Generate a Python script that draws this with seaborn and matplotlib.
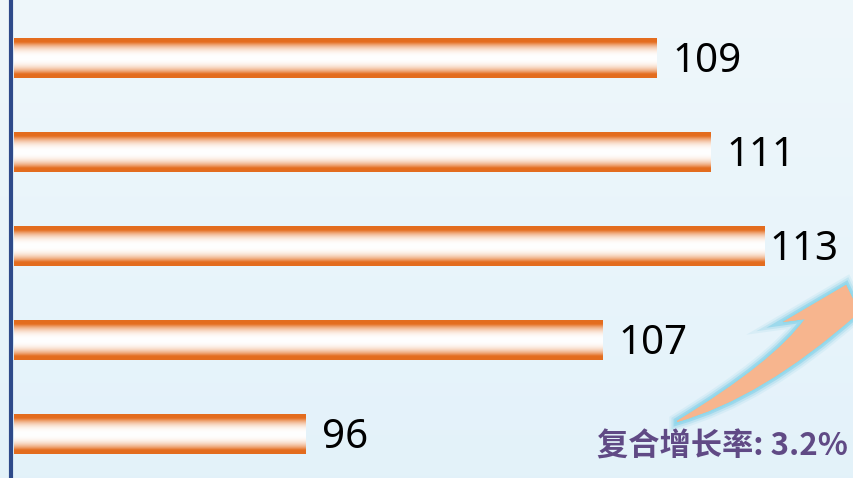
import numpy as np
import pandas as pd
import matplotlib.pyplot as plt
import matplotlib.patheffects as pe
from matplotlib.patches import PathPatch
from matplotlib.path import Path
import seaborn as sns

# данные (сверху вниз), рост 96 -> 109 даёт CAGR 3.2%
periods = ["P5", "P4", "P3", "P2", "P1"]
values = [109, 111, 113, 107, 96]
cagr_label = "复合增长率: 3.2%"

df = pd.DataFrame({"period": periods, "value": values})

sns.set_style("white")
plt.rcParams['font.family'] = ['Noto Sans', 'DejaVu Sans']

W, H = 854, 478
fig = plt.figure(figsize=(W / 100, H / 100), dpi=100)

# фон - светло-голубой градиент
bg = fig.add_axes([0, 0, 1, 1], zorder=0)
top = np.array([0.937, 0.969, 0.984])
bot = np.array([0.890, 0.949, 0.980])
t = np.linspace(0, 1, 256)[:, None]
grad = top[None, :] * (1 - t) + bot[None, :] * t
bg.imshow(grad[:, None, :], aspect='auto', extent=(0, 1, 0, 1), origin='upper')
bg.set_axis_off()

ax = fig.add_axes([14 / W, 0, 1 - 14 / W, 1], zorder=1)
ax.patch.set_alpha(0)

sns.barplot(data=df, x="value", y="period", order=periods, orient='h',
            width=0.415, color='#E46C1E', ax=ax)

ax.set_xlim(85.19, 116.3)
ax.set_ylim(4.463, -0.622)

# градиент на барах: оранжевый край, белая середина
orange = np.array([0.894, 0.424, 0.118])
white = np.array([1.0, 1.0, 1.0])
s = np.linspace(0, 1, 200)
w = np.clip(np.abs(2 * s - 1) / 0.8, 0, 1) ** 2.5
bar_grad = white[None, :] * (1 - w[:, None]) + orange[None, :] * w[:, None]

labels = []
for p, v in zip(ax.patches, values):
    x0, y0 = p.get_x(), p.get_y()
    h = p.get_height()
    p.set_visible(False)
    ax.imshow(bar_grad[:, None, :], aspect='auto', interpolation='bicubic',
              extent=(x0, x0 + p.get_width(), y0 + h, y0), zorder=2)
    txt = ax.text(p.get_width() + 16 / 27, y0 + h / 2 + 0.04, f'{v}', va='center',
                  ha='left', fontsize=29, color='black', zorder=3)
    labels.append(txt)

# подпись не должна вылезать за правый край
fig.canvas.draw()
renderer = fig.canvas.get_renderer()
for txt in labels:
    bb = txt.get_window_extent(renderer)
    if bb.x1 > W - 16:
        x, y = txt.get_position()
        txt.set_position((x - (bb.x1 - (W - 16)) / 27, y))

ax.set_xlabel('')
ax.set_ylabel('')
ax.set_xticks([])
ax.set_yticks([])
for side in ['top', 'right', 'bottom']:
    ax.spines[side].set_visible(False)
ax.spines['left'].set_color('#2E4A8A')
ax.spines['left'].set_linewidth(3)
ax.spines['left'].set_position(('outward', 2))

# стрелка роста
verts = [(677, 421), (774, 362), (805, 319),   # верхний край (кривая)
         (783, 322), (846, 285), (866, 326),   # наконечник
         (856, 315), (762, 398), (677, 422),   # нижний край (кривая)
         (677, 421)]
codes = [Path.MOVETO, Path.CURVE3, Path.CURVE3,
         Path.LINETO, Path.LINETO, Path.LINETO,
         Path.LINETO, Path.CURVE3, Path.CURVE3,
         Path.CLOSEPOLY]
arrow_path = Path([(x / W, 1 - y / H) for x, y in verts], codes)
arrow = PathPatch(arrow_path, transform=fig.transFigure, facecolor='#F7B58E',
                  edgecolor='none', zorder=4)
arrow.set_path_effects([
    pe.withStroke(linewidth=11, foreground=(0.45, 0.78, 0.88, 0.12)),
    pe.withStroke(linewidth=8, foreground=(0.45, 0.78, 0.88, 0.22)),
    pe.withStroke(linewidth=5, foreground=(0.45, 0.80, 0.90, 0.45)),
    pe.withStroke(linewidth=2.5, foreground=(0.55, 0.85, 0.93, 0.8)),
    pe.Normal(),
])
fig.add_artist(arrow)

fig.text(597 / W, 1 - 447 / H, cagr_label, ha='left', va='center', fontsize=22.5,
         fontweight='bold', color='#604A85',
         family=['Noto Sans CJK SC', 'DejaVu Sans'], zorder=5)

fig.savefig('out.png', dpi=100)
